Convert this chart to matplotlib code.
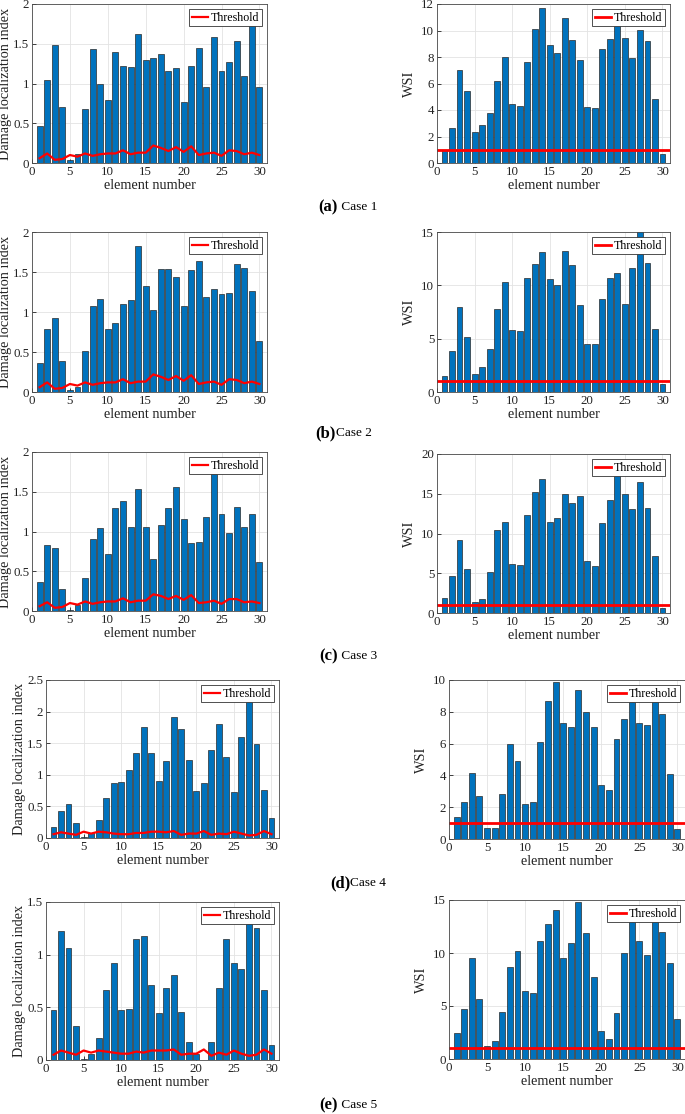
import matplotlib
matplotlib.use("Agg")
import matplotlib.pyplot as plt
from matplotlib.ticker import FuncFormatter
import numpy as np

plt.rcParams['font.family'] = ['Liberation Serif', 'DejaVu Serif']

elements = list(range(1, 31))

dli_case1 = [0.47, 1.05, 1.49, 0.70, 0.04, 0.11, 0.68, 1.44, 1.00, 0.79,
             1.40, 1.22, 1.21, 1.62, 1.29, 1.32, 1.37, 1.16, 1.20, 0.77,
             1.22, 1.45, 0.96, 1.59, 1.16, 1.27, 1.53, 1.10, 1.75, 0.96]
dli_case2 = [0.36, 0.79, 0.92, 0.39, 0.02, 0.06, 0.51, 1.08, 1.16, 0.79,
             0.86, 1.10, 1.15, 1.82, 1.32, 1.03, 1.54, 1.54, 1.44, 1.08,
             1.52, 1.64, 1.19, 1.29, 1.23, 1.24, 1.60, 1.55, 1.26, 0.64]
dli_case3 = [0.37, 0.83, 0.79, 0.28, 0.01, 0.08, 0.42, 0.91, 1.05, 0.72,
             1.30, 1.38, 1.06, 1.53, 1.06, 0.66, 1.08, 1.29, 1.56, 1.16,
             0.85, 0.87, 1.18, 1.72, 1.22, 0.98, 1.31, 1.06, 1.22, 0.62]
dli_case4 = [0.18, 0.43, 0.54, 0.24, 0.02, 0.08, 0.28, 0.64, 0.87, 0.88,
             1.08, 1.35, 1.76, 1.34, 0.90, 1.22, 1.92, 1.73, 1.24, 0.74,
             0.87, 1.39, 1.80, 1.28, 0.72, 1.60, 2.21, 1.48, 0.76, 0.31]
dli_case5 = [0.47, 1.22, 1.06, 0.32, 0.01, 0.06, 0.21, 0.66, 0.92, 0.47,
             0.48, 1.15, 1.18, 0.71, 0.45, 0.68, 0.81, 0.46, 0.17, 0.06,
             0.00, 0.17, 0.68, 1.15, 0.92, 0.86, 1.31, 1.25, 0.66, 0.14]

thr_case1 = [0.06, 0.12, 0.04, 0.05, 0.10, 0.08, 0.12, 0.09, 0.11, 0.12,
             0.12, 0.16, 0.11, 0.13, 0.13, 0.22, 0.19, 0.15, 0.20, 0.14,
             0.21, 0.10, 0.12, 0.13, 0.09, 0.16, 0.15, 0.11, 0.13, 0.10]
thr_case2 = [0.06, 0.12, 0.04, 0.05, 0.10, 0.08, 0.12, 0.09, 0.11, 0.12,
             0.12, 0.16, 0.11, 0.13, 0.13, 0.22, 0.19, 0.15, 0.20, 0.14,
             0.21, 0.10, 0.12, 0.13, 0.09, 0.16, 0.15, 0.11, 0.13, 0.10]
thr_case3 = [0.06, 0.11, 0.04, 0.05, 0.10, 0.08, 0.12, 0.09, 0.11, 0.12,
             0.12, 0.16, 0.11, 0.13, 0.13, 0.21, 0.19, 0.15, 0.19, 0.14,
             0.20, 0.10, 0.11, 0.13, 0.09, 0.15, 0.15, 0.11, 0.12, 0.10]
thr_case4 = [0.06, 0.09, 0.07, 0.05, 0.10, 0.07, 0.10, 0.09, 0.07, 0.06,
             0.06, 0.08, 0.08, 0.10, 0.10, 0.09, 0.11, 0.05, 0.07, 0.07,
             0.11, 0.05, 0.07, 0.06, 0.10, 0.07, 0.04, 0.05, 0.11, 0.06]
thr_case5 = [0.05, 0.09, 0.07, 0.05, 0.09, 0.07, 0.09, 0.08, 0.07, 0.06,
             0.06, 0.08, 0.07, 0.09, 0.09, 0.09, 0.10, 0.05, 0.06, 0.06,
             0.10, 0.04, 0.07, 0.05, 0.09, 0.06, 0.04, 0.05, 0.10, 0.06]

wsi_case1 = [1.00, 2.65, 7.05, 5.45, 2.36, 2.84, 3.80, 6.16, 7.97, 4.48,
             4.33, 7.65, 10.09, 11.67, 8.93, 8.30, 10.92, 9.26, 7.77, 4.25,
             4.13, 8.63, 9.36, 10.65, 9.46, 7.95, 10.04, 9.23, 4.86, 0.65]
wsi_case2 = [1.47, 3.80, 7.97, 5.15, 1.69, 2.32, 4.02, 7.78, 10.29, 5.77,
             5.71, 10.67, 12.02, 13.08, 10.60, 10.07, 13.24, 11.86, 8.16, 4.52,
             4.49, 8.72, 10.73, 11.17, 8.22, 11.64, 15.20, 12.11, 5.90, 0.72]
wsi_case3 = [1.89, 4.61, 9.22, 5.58, 1.43, 1.76, 5.16, 10.48, 11.45, 6.16,
             6.04, 12.37, 15.18, 16.90, 11.49, 11.95, 15.01, 13.79, 14.67, 6.50,
             5.95, 11.36, 14.17, 17.61, 15.01, 13.12, 16.44, 13.21, 7.13, 0.67]
wsi_case4 = [1.41, 2.31, 4.16, 2.69, 0.71, 0.71, 2.82, 5.97, 4.92, 2.23,
             2.31, 6.09, 8.66, 9.85, 7.27, 7.02, 9.35, 7.96, 7.06, 3.42,
             3.09, 6.28, 7.52, 8.59, 7.27, 7.16, 8.82, 7.88, 4.10, 0.61]
wsi_case5 = [2.45, 4.72, 9.50, 5.63, 1.26, 1.67, 4.47, 8.68, 10.19, 6.45,
             6.23, 11.13, 12.74, 14.06, 9.56, 10.91, 14.84, 11.89, 7.77, 2.61,
             1.86, 4.34, 10.03, 13.30, 11.13, 9.81, 13.40, 11.98, 9.03, 3.81]

wsi_threshold = 1.0

dli_ylims = [2, 2, 2, 2.5, 1.5]
wsi_ylims = [12, 15, 20, 10, 15]
wsi_steps = [2, 5, 5, 2, 5]
captions = [("(a)", " Case 1"), ("(b)", "Case 2"), ("(c)", " Case 3"),
            ("(d)", "Case 4"), ("(e)", " Case 5")]

dli_all = [dli_case1, dli_case2, dli_case3, dli_case4, dli_case5]
thr_all = [thr_case1, thr_case2, thr_case3, thr_case4, thr_case5]
wsi_all = [wsi_case1, wsi_case2, wsi_case3, wsi_case4, wsi_case5]

W, H = 685, 1114
fig = plt.figure(figsize=(W / 100, H / 100), dpi=100)

# pixel rects: left, top, right, bottom
left_rects = [(32, 4, 267, 163), (32, 232, 267, 392), (32, 452, 267, 611),
              (46, 680, 279, 838), (46, 902, 279, 1060)]
right_rects = [(437, 4, 670, 163), (437, 232, 670, 392), (437, 454, 670, 613),
               (449, 680, 685, 839), (449, 900, 685, 1059)]
cap_pos = [(338, 207), (336, 433), (338, 656), (350, 883), (338, 1105)]

BAR = '#0072BD'
EDGE = '#2a2a2a'
SPINE = '#4a4a4a'
GRID = '#e3e3e3'


def mk_ax(r):
    l, t, rr, b = r
    return fig.add_axes([l / W, 1 - b / H, (rr - l) / W, (b - t) / H])


def style(ax, ymax, step):
    ax.set_xlim(0, 31)
    ax.set_ylim(0, ymax)
    ax.set_xticks([0, 5, 10, 15, 20, 25, 30])
    ax.set_yticks(np.arange(0, ymax + 1e-9, step))
    ax.yaxis.set_major_formatter(FuncFormatter(lambda v, p: f"{v:g}"))
    ax.grid(True, color=GRID, lw=0.6)
    ax.set_axisbelow(True)
    for s in ax.spines.values():
        s.set_color(SPINE)
        s.set_linewidth(0.6)
    ax.tick_params(direction='in', length=3, width=0.6, colors='#222222',
                   labelsize=9.3, pad=2, top=False, right=False)
    ax.set_xlabel('element number', fontsize=10.3, labelpad=1, color='#222222')


def legend(ax):
    leg = ax.legend(loc='upper right', fontsize=8.6, frameon=True, fancybox=False,
                    framealpha=1, edgecolor='#333333', borderpad=0.2,
                    handlelength=1.4, handletextpad=0.2, borderaxespad=0.45)
    leg.get_frame().set_linewidth(0.6)


for i in range(5):
    ax = mk_ax(left_rects[i])
    ax.bar(elements, dli_all[i], width=0.78, color=BAR, edgecolor=EDGE, linewidth=0.5)
    ax.plot(elements, thr_all[i], color='#ff0000', lw=1.6, label='Threshold')
    style(ax, dli_ylims[i], 0.5)
    ax.set_ylabel('Damage localization index', fontsize=10.3, labelpad=1, color='#222222')
    legend(ax)

    ax2 = mk_ax(right_rects[i])
    ax2.bar(elements, wsi_all[i], width=0.78, color=BAR, edgecolor=EDGE, linewidth=0.5)
    ax2.axhline(wsi_threshold, color='#ff0000', lw=2, label='Threshold')
    style(ax2, wsi_ylims[i], wsi_steps[i])
    ax2.set_ylabel('WSI', fontsize=10.3, labelpad=4, color='#222222')
    legend(ax2)

    x, y = cap_pos[i]
    bold, rest = captions[i]
    fig.text(x / W, 1 - y / H, bold, fontsize=12, fontweight='bold', ha='right', va='center')
    fig.text(x / W, 1 - y / H, rest, fontsize=9.5, ha='left', va='center')

fig.savefig('out.png', dpi=100)
